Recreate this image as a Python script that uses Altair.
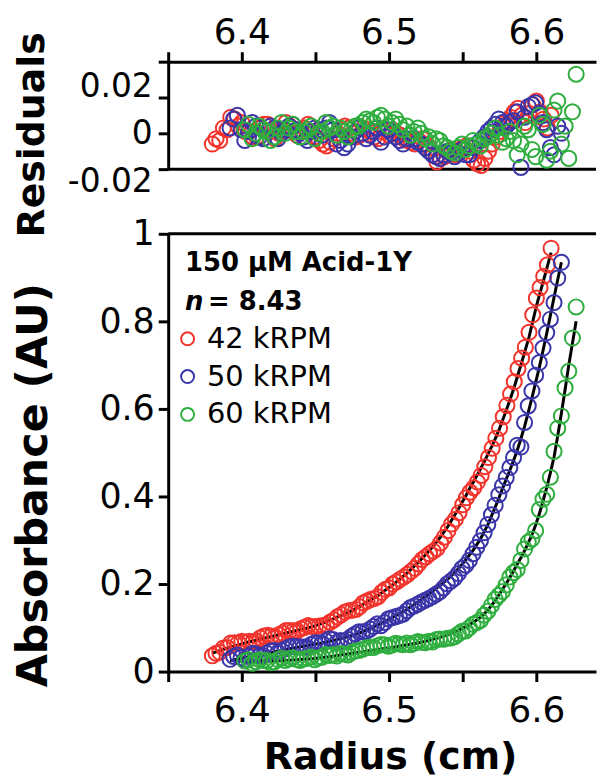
import altair as alt
import pandas as pd

series_names = ["42 kRPM", "50 kRPM", "60 kRPM"]
series_colors = ["#f2342c", "#3a35a8", "#2fae3f"]

red_radius = [6.3800, 6.3825, 6.3850, 6.3875, 6.3900, 6.3925, 6.3950, 6.3975,
              6.4000, 6.4025, 6.4050, 6.4075, 6.4100, 6.4125, 6.4150, 6.4175,
              6.4200, 6.4225, 6.4250, 6.4275, 6.4300, 6.4325, 6.4350, 6.4375,
              6.4400, 6.4425, 6.4450, 6.4475, 6.4500, 6.4525, 6.4550, 6.4575,
              6.4600, 6.4625, 6.4650, 6.4675, 6.4700, 6.4725, 6.4750, 6.4775,
              6.4800, 6.4825, 6.4850, 6.4875, 6.4900, 6.4925, 6.4950, 6.4975,
              6.5000, 6.5025, 6.5050, 6.5075, 6.5100, 6.5125, 6.5150, 6.5175,
              6.5200, 6.5225, 6.5250, 6.5275, 6.5300, 6.5325, 6.5350, 6.5375,
              6.5400, 6.5425, 6.5450, 6.5475, 6.5500, 6.5525, 6.5550, 6.5575,
              6.5600, 6.5625, 6.5650, 6.5675, 6.5700, 6.5725, 6.5750, 6.5775,
              6.5800, 6.5825, 6.5850, 6.5875, 6.5900, 6.5925, 6.5950, 6.5975,
              6.6000, 6.6025, 6.6050, 6.6075, 6.6100]
red_fit = [0.042, 0.045, 0.048, 0.051, 0.053, 0.056, 0.058, 0.061,
           0.063, 0.066, 0.068, 0.070, 0.072, 0.074, 0.076, 0.078,
           0.080, 0.082, 0.084, 0.086, 0.088, 0.090, 0.092, 0.094,
           0.096, 0.098, 0.100, 0.102, 0.105, 0.108, 0.111, 0.114,
           0.118, 0.121, 0.125, 0.128, 0.132, 0.136, 0.140, 0.144,
           0.149, 0.154, 0.159, 0.164, 0.169, 0.174, 0.180, 0.186,
           0.192, 0.198, 0.205, 0.212, 0.219, 0.226, 0.234, 0.242,
           0.250, 0.259, 0.268, 0.277, 0.287, 0.297, 0.308, 0.320,
           0.332, 0.346, 0.360, 0.374, 0.389, 0.404, 0.420, 0.435,
           0.450, 0.466, 0.482, 0.499, 0.516, 0.535, 0.555, 0.578,
           0.601, 0.625, 0.650, 0.678, 0.706, 0.735, 0.764, 0.799,
           0.835, 0.865, 0.895, 0.926, 0.957]
red_resid = [-0.006, -0.003, -0.004, 0.003, 0.002, 0.009, 0.008,
             0.004, 0.006, 0.001, 0.001, -0.002, -0.002, 0.003, 0.005, 0.005, 0.001,
             -0.003, 0.000, 0.002, 0.006, 0.004, 0.001, -0.001, 0.002, 0.003, 0.005,
             0.001, -0.002,
             -0.004, -0.006, -0.007, -0.005, -0.003, 0.000, 0.002, 0.004, 0.003, 0.000,
             -0.002, -0.001, 0.003, 0.002, 0.001, -0.002, -0.003, 0.001, 0.002, -0.001,
             0.002, 0.000, -0.001, -0.003, -0.004, -0.005, -0.006, -0.004, -0.003, -0.006,
             -0.008, -0.012, -0.016, -0.014, -0.013, -0.010, -0.009, -0.012, -0.011, -0.008,
             -0.007, -0.010, -0.015, -0.017, -0.018, -0.014, -0.010, -0.006, -0.002, 0.001,
             0.004, 0.007, 0.009, 0.012, 0.014, 0.010, 0.006, 0.011, 0.016, 0.018,
             0.012, 0.008, 0.003, 0.010]

blue_radius = [6.3920, 6.3945, 6.3970, 6.3995, 6.4020, 6.4045, 6.4070, 6.4095,
               6.4120, 6.4145, 6.4170, 6.4195, 6.4220, 6.4245, 6.4270, 6.4295,
               6.4320, 6.4345, 6.4370, 6.4395, 6.4420, 6.4445, 6.4470, 6.4495,
               6.4520, 6.4545, 6.4570, 6.4595, 6.4620, 6.4645, 6.4670, 6.4695,
               6.4720, 6.4745, 6.4770, 6.4795, 6.4820, 6.4845, 6.4870, 6.4895,
               6.4920, 6.4945, 6.4970, 6.4995, 6.5020, 6.5045, 6.5070, 6.5095,
               6.5120, 6.5145, 6.5170, 6.5195, 6.5220, 6.5245, 6.5270, 6.5295,
               6.5320, 6.5345, 6.5370, 6.5395, 6.5420, 6.5445, 6.5470, 6.5495,
               6.5520, 6.5545, 6.5570, 6.5595, 6.5620, 6.5645, 6.5670, 6.5695,
               6.5720, 6.5745, 6.5770, 6.5795, 6.5820, 6.5845, 6.5870, 6.5895,
               6.5920, 6.5945, 6.5970, 6.5995, 6.6020, 6.6045, 6.6070, 6.6095,
               6.6120, 6.6145, 6.6170]
blue_fit = [0.0250, 0.0265, 0.0280, 0.0300, 0.0320, 0.0335, 0.0350, 0.0365,
            0.0380, 0.0395, 0.0410, 0.0430, 0.0450, 0.0465, 0.0480, 0.0500,
            0.0520, 0.0535, 0.0550, 0.0565, 0.0580, 0.0595, 0.0610, 0.0625,
            0.0640, 0.0655, 0.0670, 0.0690, 0.0710, 0.0730, 0.0750, 0.0775,
            0.0800, 0.0825, 0.0850, 0.0880, 0.0910, 0.0945, 0.0980, 0.1020,
            0.1060, 0.1100, 0.1140, 0.1185, 0.1230, 0.1275, 0.1320, 0.1370,
            0.1420, 0.1475, 0.1530, 0.1590, 0.1650, 0.1710, 0.1770, 0.1835,
            0.1900, 0.1965, 0.2030, 0.2105, 0.2180, 0.2265, 0.2350, 0.2450,
            0.2550, 0.2660, 0.2770, 0.2900, 0.3030, 0.3190, 0.3350, 0.3550,
            0.3750, 0.3960, 0.4180, 0.4390, 0.4600, 0.4820, 0.5050, 0.5320,
            0.5600, 0.5920, 0.6250, 0.6600, 0.6950, 0.7330, 0.7720, 0.8130,
            0.8550, 0.8950, 0.9350]
blue_resid = [0.003, 0.008, 0.010, 0.002, -0.004, 0.001, 0.006, 0.004, -0.002, -0.003, 0.001,
              0.004, 0.003, -0.003, 0.000, 0.002, 0.004, 0.005, 0.002, 0.000, -0.002,
              -0.004, 0.001, 0.003, 0.002, -0.001, 0.003, 0.006, 0.002, -0.006, -0.004,
              -0.008, -0.006, -0.002, 0.001, 0.003, 0.000, -0.003, -0.001, 0.001, 0.003,
              -0.005, -0.002, 0.002, 0.000, -0.002, -0.004, -0.006, -0.003, -0.001, -0.003,
              -0.005, -0.006, -0.008, -0.010, -0.012, -0.013, -0.014, -0.012, -0.010, -0.011,
              -0.013, -0.011, -0.009, -0.012, -0.012, -0.008, -0.006, -0.004, -0.002, 0.001,
              0.003, 0.005, 0.008, 0.006, 0.004, 0.006, 0.007, 0.012, -0.019, 0.009,
              0.015, 0.016, 0.017, 0.011, 0.006, 0.002, -0.008, -0.012, 0.004, 0.000]

green_radius = [6.4020, 6.4045, 6.4070, 6.4095, 6.4120, 6.4145, 6.4170, 6.4195,
                6.4220, 6.4245, 6.4270, 6.4295, 6.4320, 6.4345, 6.4370, 6.4395,
                6.4420, 6.4445, 6.4470, 6.4495, 6.4520, 6.4545, 6.4570, 6.4595,
                6.4620, 6.4645, 6.4670, 6.4695, 6.4720, 6.4745, 6.4770, 6.4795,
                6.4820, 6.4845, 6.4870, 6.4895, 6.4920, 6.4945, 6.4970, 6.4995,
                6.5020, 6.5045, 6.5070, 6.5095, 6.5120, 6.5145, 6.5170, 6.5195,
                6.5220, 6.5245, 6.5270, 6.5295, 6.5320, 6.5345, 6.5370, 6.5395,
                6.5420, 6.5445, 6.5470, 6.5495, 6.5520, 6.5545, 6.5570, 6.5595,
                6.5620, 6.5645, 6.5670, 6.5695, 6.5720, 6.5745, 6.5770, 6.5795,
                6.5820, 6.5845, 6.5870, 6.5895, 6.5920, 6.5945, 6.5970, 6.5995,
                6.6020, 6.6045, 6.6070, 6.6095, 6.6120, 6.6145, 6.6170, 6.6195,
                6.6220, 6.6245, 6.6270]
green_fit = [0.0220, 0.0220, 0.0220, 0.0225, 0.0230, 0.0235, 0.0240, 0.0240,
             0.0240, 0.0245, 0.0250, 0.0255, 0.0260, 0.0265, 0.0270, 0.0275,
             0.0280, 0.0285, 0.0290, 0.0300, 0.0310, 0.0320, 0.0330, 0.0340,
             0.0350, 0.0365, 0.0380, 0.0390, 0.0400, 0.0415, 0.0430, 0.0440,
             0.0450, 0.0465, 0.0480, 0.0490, 0.0500, 0.0515, 0.0530, 0.0540,
             0.0550, 0.0565, 0.0580, 0.0595, 0.0610, 0.0625, 0.0640, 0.0655,
             0.0670, 0.0690, 0.0710, 0.0735, 0.0760, 0.0785, 0.0810, 0.0840,
             0.0870, 0.0905, 0.0940, 0.0980, 0.1020, 0.1070, 0.1120, 0.1180,
             0.1240, 0.1320, 0.1400, 0.1510, 0.1620, 0.1750, 0.1880, 0.2010,
             0.2150, 0.2300, 0.2450, 0.2600, 0.2760, 0.2940, 0.3120, 0.3350,
             0.3600, 0.3890, 0.4200, 0.4540, 0.4900, 0.5380, 0.5900, 0.6440,
             0.7000, 0.7500, 0.8000]
green_resid = [0.002, 0.005, -0.003, 0.000, 0.004, 0.002, 0.001, -0.004, -0.002, 0.003, 0.006,
               0.000, 0.003, 0.005, 0.001, -0.002, 0.001, 0.002, 0.004, -0.003, 0.000,
               0.001, 0.006, 0.003, 0.004, -0.001, 0.003, 0.001, -0.002, 0.002, 0.004,
               0.004, 0.006, 0.008, 0.007, 0.006, 0.009, 0.010, 0.008, 0.004, 0.006,
               0.008, 0.005, 0.002, 0.004, -0.001, 0.001, 0.003, 0.000, -0.003, -0.002,
               -0.006, -0.003, -0.004, -0.007, -0.008, -0.010, -0.011, -0.008, -0.006, -0.009,
               -0.007, -0.004, -0.006, -0.007, -0.003, -0.002, 0.000, 0.003, -0.001, -0.005,
               -0.003, 0.001, -0.004, -0.012, -0.006, 0.004, 0.002, -0.009, -0.013, 0.010,
               0.005, -0.015, -0.010, 0.013, 0.018, -0.006, 0.004, -0.014, 0.012, 0.033]

x_ticks = [6.35, 6.40, 6.45, 6.50, 6.55, 6.60]
resid_ticks = [-0.02, 0.0, 0.02, 0.04]
abs_ticks = [0.0, 0.2, 0.4, 0.6, 0.8, 1.0]
annot_title = ["150 µM Acid-1Y"]
annot_n = ["n"]
annot_val = ["= 8.43"]

rows = []
for name, rad, fit, res in zip(series_names,
                               [red_radius, blue_radius, green_radius],
                               [red_fit, blue_fit, green_fit],
                               [red_resid, blue_resid, green_resid]):
    n = min(len(rad), len(fit), len(res))
    for r, f, e in zip(rad[:n], fit[:n], res[:n]):
        rows.append({"series": name, "radius": r, "fit": f, "resid": e})
df = pd.DataFrame(rows)

FONT = "DejaVu Sans"
x_dom = [6.35, 6.6405]
x_label_expr = "abs(datum.value*10 - round(datum.value*10)) < 0.001 ? format(datum.value, '.1f') : ''"
resid_label_expr = ("datum.value > 0.03 ? '' : (datum.value == 0 ? '0' : "
                    "(datum.value < 0 ? '-' : '') + format(abs(datum.value), '.2f'))")

axis_style = dict(domainColor="black", domainWidth=3, tickColor="black", tickWidth=3,
                  tickSize=10, labelColor="black", labelFont=FONT, grid=False,
                  titleColor="black", titleFont=FONT, titleFontWeight="bold",
                  labelFlush=False, labelOverlap=False)

color_scale = alt.Scale(domain=series_names, range=series_colors)

# ---------- top panel: residuals ----------
x_top = alt.X("radius:Q", scale=alt.Scale(domain=x_dom, nice=False, zero=False),
              axis=alt.Axis(orient="top", values=x_ticks, labelExpr=x_label_expr,
                            labelFontSize=36, labelPadding=0, title=None, **axis_style))
y_res = alt.Y("resid:Q", scale=alt.Scale(domain=[-0.02, 0.04], nice=False),
              axis=alt.Axis(values=resid_ticks, labelExpr=resid_label_expr,
                            labelFontSize=33, labelPadding=6,
                            labelOffset={"condition": [{"test": "datum.value > 0.01", "value": -11},
                                                       {"test": "datum.value < -0.01", "value": 12}],
                                         "value": 0},
                            title="Residuals", titleFontSize=38, titleX=-125, titleY=73,
                            titleBaseline="alphabetic", titleAlign="center", **axis_style))

top_frame = alt.Chart(pd.DataFrame({"resid": [-0.02]})).mark_rule(
    color="black", strokeWidth=3).encode(y=y_res)
top_points = alt.Chart(df).mark_point(shape="circle", filled=False, size=230,
                                      strokeWidth=2, opacity=1).encode(
    x=x_top, y=y_res,
    color=alt.Color("series:N", scale=color_scale, legend=None))
top = alt.layer(top_frame, top_points).properties(width=430, height=108)

# ---------- bottom panel: absorbance ----------
x_bot = alt.X("radius:Q", scale=alt.Scale(domain=x_dom, nice=False, zero=False),
              axis=alt.Axis(orient="bottom", values=x_ticks, labelExpr=x_label_expr,
                            labelFontSize=36, labelPadding=12, title="Radius (cm)",
                            titleFontSize=38, titleX=223, titleY=97,
                            titleBaseline="alphabetic", titleAlign="center", **axis_style))
abs_axis = alt.Axis(values=abs_ticks, format=".1~f", labelFontSize=35, labelPadding=4,
                    title="Absorbance (AU)", titleFontSize=43, titleX=-122, titleY=252,
                    titleBaseline="alphabetic", titleAlign="center", **axis_style)
abs_scale = alt.Scale(domain=[0, 1], nice=False)

bot_frame = alt.Chart(pd.DataFrame({"fit": [1.0]})).mark_rule(
    color="black", strokeWidth=3).encode(y=alt.Y("fit:Q", scale=abs_scale, axis=abs_axis))
bot_line = alt.Chart(df).mark_line(color="black", strokeWidth=3).encode(
    x=x_bot, y=alt.Y("fit:Q", scale=abs_scale, axis=abs_axis), detail="series:N")
bot_points = alt.Chart(df).transform_calculate(
    absorb="datum.fit + datum.resid"
).mark_point(shape="circle", filled=False, size=230, strokeWidth=2, opacity=1).encode(
    x=x_bot, y=alt.Y("absorb:Q", scale=abs_scale, axis=abs_axis),
    color=alt.Color("series:N", scale=color_scale, title=None,
                    legend=alt.Legend(orient="none", legendX=5, legendY=91,
                                      symbolType="circle", symbolSize=170,
                                      symbolStrokeWidth=2, labelFont=FONT,
                                      labelFontSize=29, labelColor="black",
                                      labelBaseline="middle", labelOffset=5,
                                      rowPadding=8, padding=0)))

txt_title = alt.Chart(pd.DataFrame({"t": annot_title})).mark_text(
    align="left", baseline="alphabetic", font=FONT, fontSize=26, fontWeight="bold",
    color="black").encode(x=alt.value(17), y=alt.value(37), text="t:N")
txt_n = alt.Chart(pd.DataFrame({"t": annot_n})).mark_text(
    align="left", baseline="alphabetic", font=FONT, fontSize=26, fontWeight="bold",
    fontStyle="italic", color="black").encode(x=alt.value(17), y=alt.value(77), text="t:N")
txt_val = alt.Chart(pd.DataFrame({"t": annot_val})).mark_text(
    align="left", baseline="alphabetic", font=FONT, fontSize=26, fontWeight="bold",
    color="black").encode(x=alt.value(40), y=alt.value(77), text="t:N")

bottom = alt.layer(bot_frame, bot_line, bot_points, txt_title, txt_n, txt_val).properties(
    width=430, height=440)

chart = alt.vconcat(top, bottom, spacing=65, bounds="flush").resolve_legend(
    color="independent").properties(
    padding={"left": 4, "top": 5, "right": 0, "bottom": 0}
).configure_view(strokeWidth=0)

chart.save("out.html", embed_options={"renderer": "svg", "actions": False})
